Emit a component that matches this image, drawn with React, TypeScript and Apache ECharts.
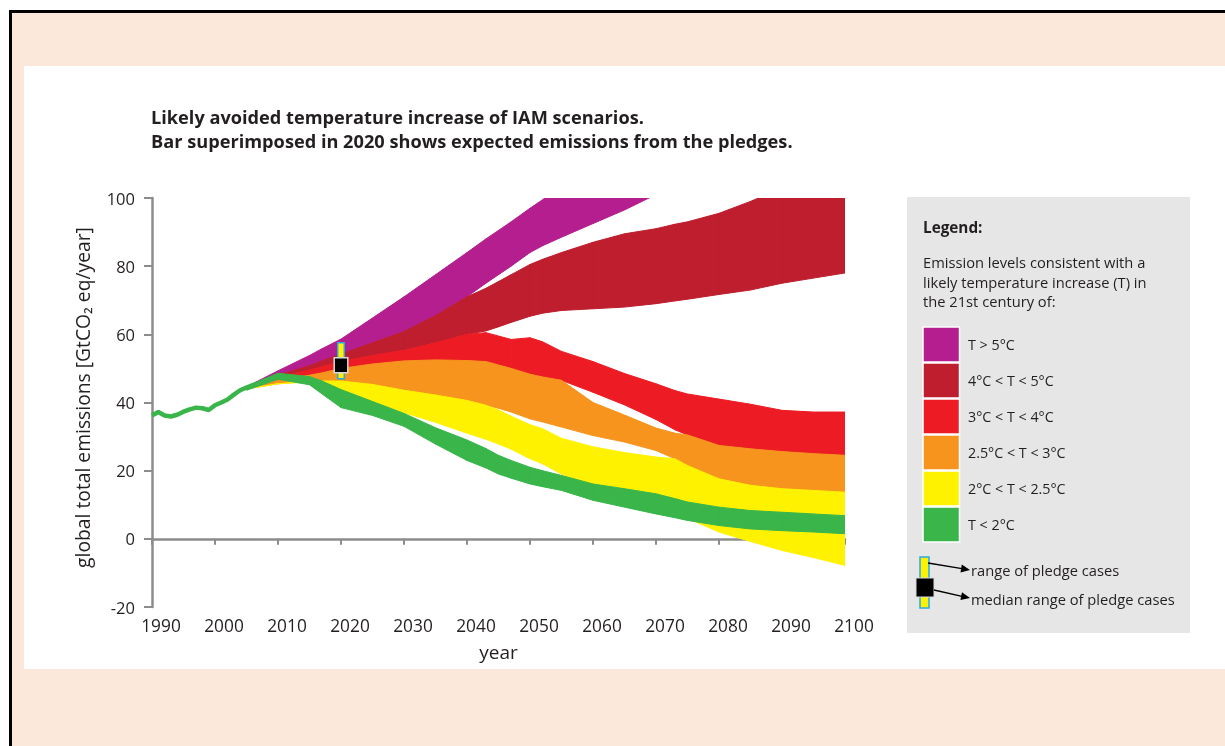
import { useEffect, useRef } from 'react'
import * as echarts from 'echarts'

const FONT = '"Open Sans", Lato, sans-serif'
const INK = '#231f20'
const AXIS_GREY = '#8c8c8c'

const TITLE_LINES = [
  'Likely avoided temperature increase of IAM scenarios.',
  'Bar superimposed in 2020 shows expected emissions from the pledges.',
]
const LEGEND_INTRO = [
  'Emission levels consistent with a',
  'likely temperature increase (T) in',
  'the 21st century of:',
]

// historical emissions, GtCO2 eq/year
const HIST_YEARS = [1990, 1991, 1992, 1993, 1994, 1995, 1996, 1997, 1998, 1999, 2000, 2001, 2002, 2003, 2004, 2005, 2006, 2007, 2008, 2009, 2010]
const HIST_EMISSIONS = [36.2, 37.2, 36.2, 35.9, 36.4, 37.3, 38, 38.5, 38.3, 37.8, 39.2, 40, 40.9, 42.3, 43.6, 44.4, 45.1, 45.7, 46.5, 47.2, 47.8]

// scenario bands (lower / upper edge)
const YEARS = [2005, 2010, 2015, 2017, 2020, 2025, 2030, 2035, 2040, 2043, 2045, 2047, 2050, 2052, 2055, 2060, 2065, 2070, 2073, 2075, 2080, 2085, 2090, 2095, 2100]
const T5_HIGH = [44.6, 49.3, 53.8, 55.8, 58.6, 64.8, 71, 77.5, 84, 88, 90.5, 93, 97, 99.5, 103.5, 110, 116, 122, 125, 127, 132, 137, 142, 147, 152]
const T5_LOW = [44.3, 48, 50.8, 52.2, 54.2, 57.5, 60.8, 65.5, 71, 75, 77.5, 80, 84, 86, 88.5, 92.5, 96.5, 101, 104, 106, 110, 114, 118, 122, 126]
const T45_HIGH = [44.3, 48, 50.8, 52.2, 54.2, 57.5, 60.8, 65.5, 71, 73.5, 75.5, 77.5, 80.5, 82, 84, 87, 89.5, 91, 92.3, 93, 95.5, 99, 103, 106, 110]
const T45_LOW = [44.3, 47.3, 49.5, 50.5, 52, 53.8, 55.3, 57.5, 60, 61, 62.2, 63.5, 65.3, 66.2, 67, 67.5, 68, 69, 69.8, 70.3, 71.7, 73, 75, 76.5, 78]
const T34_HIGH = [44.3, 47.3, 49.5, 50.5, 52, 53.8, 55.3, 57.5, 60, 60.5, 59.5, 58.5, 59, 57.8, 55, 52, 48.5, 45.5, 43.5, 42.5, 41, 39.5, 37.7, 37.2, 37.2]
const T34_LOW = [44.3, 46.5, 48, 48.7, 50, 51.3, 52.2, 52.5, 52.3, 52, 51, 50, 48.3, 47.5, 46.5, 43, 39.3, 35, 32, 30.5, 27.4, 26.4, 25.6, 25, 24.5]
const T253_HIGH = [44.3, 46.5, 48, 48.7, 50, 51.3, 52.2, 52.5, 52.3, 52, 51, 50, 48.3, 47.5, 46.5, 40, 36.3, 32.5, 31, 30.5, 27.4, 26.4, 25.6, 25, 24.5]
const T253_LOW = [44, 45.5, 46.3, 46.3, 46.3, 45.3, 43.6, 42.2, 40.6, 39.2, 38.3, 37.2, 35.2, 34.3, 32.8, 30.3, 28.4, 25.9, 23.5, 21.5, 17.6, 15.7, 14.7, 14.2, 13.7]
const T225_HIGH = [44, 45.5, 46.3, 46.3, 46.3, 45.3, 43.6, 42.2, 40.6, 39.2, 37.8, 36, 33.5, 32.3, 29.5, 27, 25.3, 24, 23.5, 21.5, 17.6, 15.7, 14.7, 14.2, 13.7]
const T225_LOW = [44, 45.5, 46, 46, 43.8, 40.3, 37, 34.2, 31, 29.2, 27.8, 26.3, 23.5, 22, 19, 15.5, 12.5, 9.5, 7.5, 6, 2, -0.8, -3.4, -5.5, -7.8]
const T2_HIGH = [44.6, 48.6, 47.6, 46.3, 43.8, 40.3, 36.8, 32.6, 29, 26.5, 24.5, 23, 21, 20, 18.6, 16.1, 14.7, 13.2, 11.8, 10.8, 9.3, 8.3, 7.8, 7.3, 6.8]
const T2_LOW = [43.6, 46.8, 45.2, 42.5, 38.5, 36.2, 33, 27.8, 23, 20.8, 19, 17.8, 16.1, 15.3, 14.2, 11.3, 9.3, 7.3, 6.2, 5.4, 3.9, 2.9, 2.4, 2, 1.5]

// pledge bar in 2020: full range and median range
const PLEDGE_YEAR = 2020
const PLEDGE_RANGE = [47, 57.5]
const PLEDGE_MEDIAN = [48.7, 53.1]

const BANDS = [
  { name: 'T > 5°C', color: '#b41e8e', low: T5_LOW, high: T5_HIGH },
  { name: '4°C < T < 5°C', color: '#be1e2d', low: T45_LOW, high: T45_HIGH },
  { name: '3°C < T < 4°C', color: '#ed1c24', low: T34_LOW, high: T34_HIGH },
  { name: '2.5°C < T < 3°C', color: '#f7941d', low: T253_LOW, high: T253_HIGH },
  { name: '2°C < T < 2.5°C', color: '#fff200', low: T225_LOW, high: T225_HIGH },
  { name: 'T < 2°C', color: '#39b54a', low: T2_LOW, high: T2_HIGH },
]

export default function App() {
  const ref = useRef<HTMLDivElement>(null)

  useEffect(() => {
    if (!ref.current) return
    const chart = echarts.init(ref.current, undefined, { renderer: 'svg' })

    // each band is drawn as a chain of quads between consecutive years
    const bandSeries = BANDS.map((band) => ({
      type: 'custom',
      name: band.name,
      silent: true,
      clip: true,
      data: YEARS.slice(0, -1).map((y, k) => [y, band.low[k], band.high[k], YEARS[k + 1], band.low[k + 1], band.high[k + 1]]),
      encode: { x: [0, 3], y: [1, 2, 4, 5] },
      renderItem: (_params: any, api: any) => {
        const a = api.coord([api.value(0), api.value(2)])
        const b = api.coord([api.value(3), api.value(5)])
        const c = api.coord([api.value(3), api.value(4)])
        const d = api.coord([api.value(0), api.value(1)])
        return {
          type: 'polygon',
          shape: { points: [a, b, c, d] },
          style: { fill: band.color, stroke: band.color, lineWidth: 1 },
        }
      },
    }))

    const legendItems = BANDS.flatMap((band, i) => [
      {
        type: 'rect',
        z: 10,
        shape: { x: 923, y: 327 + i * 36, width: 36.5, height: 35 },
        style: { fill: band.color, stroke: '#fff', lineWidth: 1.5 },
      },
      {
        type: 'text',
        z: 10,
        x: 968,
        y: 344.5 + i * 36,
        style: { text: band.name, fill: INK, fontSize: 14.3, fontFamily: FONT, verticalAlign: 'middle' },
      },
    ])

    chart.setOption({
      animation: false,
      grid: { left: 152, top: 198, width: 693, height: 409 },
      xAxis: [
        {
          type: 'value',
          min: 1990,
          max: 2100,
          interval: 10,
          position: 'bottom',
          axisLine: { show: false, onZero: false },
          axisTick: { show: false },
          splitLine: { show: false },
          axisLabel: {
            margin: 10,
            color: INK,
            fontSize: 17.3,
            fontFamily: FONT,
            padding: [0, 0, 0, 18],
            formatter: (v: number) => String(v),
          },
          name: 'year',
          nameLocation: 'middle',
          nameGap: 35,
          nameTextStyle: { color: INK, fontSize: 19, fontFamily: FONT },
        },
        {
          type: 'value',
          min: 1990,
          max: 2100,
          interval: 10,
          position: 'bottom',
          axisLine: { show: true, onZero: true, lineStyle: { color: AXIS_GREY, width: 2.5 } },
          axisTick: { show: true, length: 6, lineStyle: { color: AXIS_GREY, width: 2 } },
          axisLabel: { show: false },
          splitLine: { show: false },
        },
      ],
      yAxis: {
        type: 'value',
        min: -20,
        max: 100,
        interval: 20,
        axisLine: { show: true, onZero: false, lineStyle: { color: AXIS_GREY, width: 2.5 } },
        axisTick: { show: true, length: 8, lineStyle: { color: AXIS_GREY, width: 2 } },
        splitLine: { show: false },
        axisLabel: { margin: 17, color: INK, fontSize: 16.5, fontFamily: FONT },
        name: 'global total emissions [GtCO₂ eq/year]',
        nameLocation: 'middle',
        nameGap: 60,
        nameRotate: 90,
        nameTextStyle: { color: INK, fontSize: 19.3, fontFamily: FONT, padding: [0, 0, 0, 10] },
      },
      graphic: [
        {
          type: 'rect',
          z: 0,
          shape: { x: 10.5, y: 11.5, width: 1240, height: 760 },
          style: { fill: '#fce8da', stroke: '#000', lineWidth: 3 },
        },
        { type: 'rect', z: 0, shape: { x: 24, y: 66, width: 1210, height: 603 }, style: { fill: '#fff' } },
        { type: 'rect', z: 0, shape: { x: 907, y: 197, width: 283, height: 436 }, style: { fill: '#e6e6e6' } },
        ...TITLE_LINES.map((t, i) => ({
          type: 'text',
          z: 10,
          x: 151,
          y: 116.5 + i * 24.8,
          style: { text: t, fill: INK, fontSize: 18.2, fontWeight: 'bold', fontFamily: FONT, verticalAlign: 'middle' },
        })),
        {
          type: 'text',
          z: 10,
          x: 923,
          y: 227,
          style: { text: 'Legend:', fill: INK, fontSize: 15.3, fontWeight: 'bold', fontFamily: FONT, verticalAlign: 'middle' },
        },
        ...LEGEND_INTRO.map((t, i) => ({
          type: 'text',
          z: 10,
          x: 923,
          y: 262 + i * 19.7,
          style: { text: t, fill: INK, fontSize: 14.7, fontFamily: FONT, verticalAlign: 'middle' },
        })),
        ...legendItems,
        // pledge legend
        { type: 'rect', z: 10, shape: { x: 920, y: 557, width: 9, height: 51 }, style: { fill: '#fff200', stroke: '#27aae1', lineWidth: 1.5 } },
        { type: 'rect', z: 11, shape: { x: 916, y: 578, width: 18, height: 19 }, style: { fill: '#000', stroke: '#d9d9d9', lineWidth: 1 } },
        { type: 'line', z: 12, shape: { x1: 928, y1: 563, x2: 962, y2: 568.6 }, style: { stroke: '#000', lineWidth: 1.3 } },
        { type: 'polygon', z: 12, shape: { points: [[970, 570], [960.5, 572.5], [961.8, 564.6]] }, style: { fill: '#000' } },
        { type: 'line', z: 12, shape: { x1: 934, y1: 590, x2: 962, y2: 596.3 }, style: { stroke: '#000', lineWidth: 1.3 } },
        { type: 'polygon', z: 12, shape: { points: [[970, 598], [960.4, 600], [962, 592.2]] }, style: { fill: '#000' } },
        {
          type: 'text',
          z: 10,
          x: 971,
          y: 569.5,
          style: { text: 'range of pledge cases', fill: INK, fontSize: 14.7, fontFamily: FONT, verticalAlign: 'middle' },
        },
        {
          type: 'text',
          z: 10,
          x: 971,
          y: 598.5,
          style: { text: 'median range of pledge cases', fill: INK, fontSize: 14.7, fontFamily: FONT, verticalAlign: 'middle' },
        },
      ],
      series: [
        ...bandSeries,
        {
          type: 'line',
          data: HIST_YEARS.map((y, k) => [y, HIST_EMISSIONS[k]]),
          symbol: 'none',
          lineStyle: { color: '#39b54a', width: 4.5 },
          silent: true,
        },
        {
          type: 'custom',
          silent: true,
          data: [[PLEDGE_YEAR, PLEDGE_RANGE[0], PLEDGE_RANGE[1], PLEDGE_MEDIAN[0], PLEDGE_MEDIAN[1]]],
          encode: { x: 0, y: [1, 2] },
          renderItem: (_params: any, api: any) => {
            const x = api.value(0)
            const top = api.coord([x, api.value(2)])
            const bottom = api.coord([x, api.value(1)])
            const mTop = api.coord([x, api.value(4)])
            const mBottom = api.coord([x, api.value(3)])
            return {
              type: 'group',
              children: [
                {
                  type: 'rect',
                  shape: { x: top[0] - 3.3, y: top[1], width: 6.6, height: bottom[1] - top[1] },
                  style: { fill: '#fff200', stroke: '#27aae1', lineWidth: 1.5 },
                },
                {
                  type: 'rect',
                  shape: { x: mTop[0] - 6.8, y: mTop[1], width: 13.6, height: mBottom[1] - mTop[1] },
                  style: { fill: '#000', stroke: '#d9d9d9', lineWidth: 1.5 },
                },
              ],
            }
          },
        },
      ],
    })

    return () => chart.dispose()
  }, [])

  return <div ref={ref} style={{ position: 'fixed', left: 0, top: 0, width: 1225, height: 746 }} />
}
